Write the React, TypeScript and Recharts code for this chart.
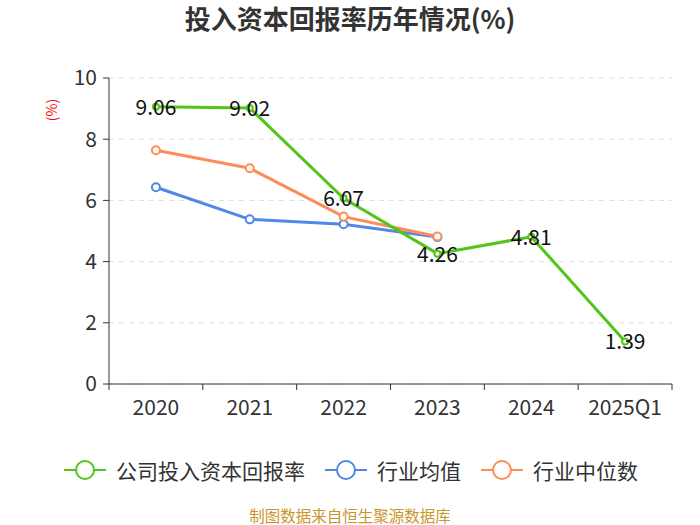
import React from 'react';
import { LineChart, Line, XAxis, YAxis, CartesianGrid, LabelList } from 'recharts';

const years = ['2020', '2021', '2022', '2023', '2024', '2025Q1'];
const companyRoic = [9.06, 9.02, 6.07, 4.26, 4.81, 1.39];
const industryAvg = [6.43, 5.38, 5.22, 4.8, null, null];
const industryMedian = [7.64, 7.05, 5.47, 4.82, null, null];
const yTicks = [0, 2, 4, 6, 8, 10];

const GREEN = '#52c41a';
const BLUE = '#4f88e8';
const ORANGE = '#ff8c57';
const FONT = '"Noto Sans CJK SC", "Noto Sans", sans-serif';

const data = years.map((year, i) => ({
  year,
  company: companyRoic[i],
  avg: industryAvg[i],
  median: industryMedian[i],
}));

const legendItems = [
  { name: '公司投入资本回报率', color: GREEN },
  { name: '行业均值', color: BLUE },
  { name: '行业中位数', color: ORANGE },
];

const BAND = (672 - 109) / years.length;

const XTick = (props: any) => {
  const { x, y, payload, index } = props;
  const left = x - BAND / 2;
  return (
    <g>
      <line x1={left} y1={y - 8} x2={left} y2={y - 2} stroke="#333" />
      {index === years.length - 1 && (
        <line x1={x + BAND / 2} y1={y - 8} x2={x + BAND / 2} y2={y - 2} stroke="#333" />
      )}
      <text x={x} y={y + 23} textAnchor="middle" fontSize={21} fill="#333" fontFamily={FONT}>
        {payload.value}
      </text>
    </g>
  );
};

const renderValue = (props: any) => {
  const { x, y, value } = props;
  return (
    <text x={x} y={y - 1} textAnchor="middle" dominantBaseline="central" fontSize={21} fill="#111" fontFamily={FONT}>
      {value}
    </text>
  );
};

export default function App() {
  return (
    <div style={{ position: 'absolute', left: 0, top: 0, width: 700, height: 525, background: '#fff' }}>
      <LineChart width={700} height={525} data={data} margin={{ top: 78, right: 28, bottom: 111, left: 0 }}>
        <text x={350} y={29} textAnchor="middle" fontSize={26} fontWeight="bold" fill="#333" fontFamily={FONT}>
          投入资本回报率历年情况(%)
        </text>
        <text
          x={57}
          y={110}
          textAnchor="middle"
          fontSize={14}
          fill="#f00"
          fontFamily={FONT}
          transform="rotate(-90 57 110)"
        >
          (%)
        </text>
        <CartesianGrid vertical={false} stroke="#ddd" strokeDasharray="5 5" />
        <XAxis
          dataKey="year"
          stroke="#333"
          tickLine={false}
          tick={<XTick />}
          interval={0}
          height={30}
          padding={{ left: BAND / 2, right: BAND / 2 }}
        />
        <YAxis
          width={109}
          domain={[0, 10]}
          ticks={yTicks}
          stroke="#333"
          tickSize={6}
          tickMargin={6}
          tick={{ fontSize: 21, fill: '#333', fontFamily: FONT }}
        />
        <Line
          dataKey="avg"
          stroke={BLUE}
          strokeWidth={3}
          dot={{ r: 4, fill: '#fff', stroke: BLUE, strokeWidth: 2 }}
          isAnimationActive={false}
        />
        <Line
          dataKey="median"
          stroke={ORANGE}
          strokeWidth={3}
          dot={{ r: 4, fill: '#fff', stroke: ORANGE, strokeWidth: 2 }}
          isAnimationActive={false}
        />
        <Line
          dataKey="company"
          stroke={GREEN}
          strokeWidth={3}
          dot={{ r: 3, fill: '#fff', stroke: GREEN, strokeWidth: 2 }}
          isAnimationActive={false}
        >
          <LabelList dataKey="company" content={renderValue} />
        </Line>
        <text x={350} y={522} textAnchor="middle" fontSize={15.5} fill="#c9962e" fontFamily={FONT}>
          制图数据来自恒生聚源数据库
        </text>
      </LineChart>
      <div
        style={{
          position: 'absolute',
          top: 455,
          left: 64,
          display: 'flex',
          alignItems: 'center',
          fontFamily: FONT,
          fontSize: 21,
          color: '#333',
          whiteSpace: 'nowrap',
        }}
      >
        {legendItems.map((item, i) => (
          <div key={item.name} style={{ display: 'flex', alignItems: 'center', marginLeft: i === 0 ? 0 : 20 }}>
            <svg width={42} height={22}>
              <line x1={0} y1={11} x2={42} y2={11} stroke={item.color} strokeWidth={2} />
              <circle cx={21} cy={11} r={9} fill="#fff" stroke={item.color} strokeWidth={2} />
            </svg>
            <span style={{ marginLeft: 10 }}>{item.name}</span>
          </div>
        ))}
      </div>
    </div>
  );
}
